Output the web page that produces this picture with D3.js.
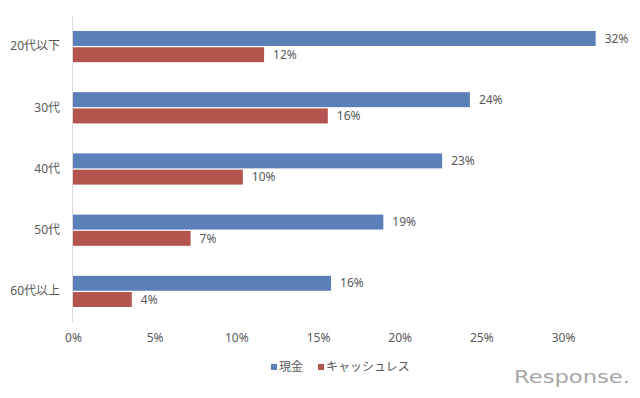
<!DOCTYPE html>
<html>
<head>
<meta charset="utf-8">
<script src="https://cdn.jsdelivr.net/npm/d3@7"></script>
<style>
  html, body { margin: 0; padding: 0; background: #fff; }
  svg { display: block; }
  text { font-family: "Noto Sans", "Noto Sans CJK JP", sans-serif; fill: #595959; }
</style>
</head>
<body>
<div id="chart"></div>
<script>
// data (percent)
var categories = ["20代以下", "30代", "40代", "50代", "60代以上"];
var seriesNames = ["現金", "キャッシュレス"];
var cashValues = [32.0, 24.3, 22.6, 19.0, 15.8];
var cashlessValues = [11.7, 15.6, 10.4, 7.2, 3.6];
var xTicks = [0, 5, 10, 15, 20, 25, 30];

var colors = ["#5a7fb9", "#b3544f"];

var svgWidth = 640, svgHeight = 398;
var margin = {top: 16, right: 77, bottom: 76, left: 73},
    width = svgWidth - margin.left - margin.right,
    height = svgHeight - margin.top - margin.bottom;

var svg = d3.select("#chart").append("svg")
    .attr("width", svgWidth)
    .attr("height", svgHeight);

var g = svg.append("g")
    .attr("transform", "translate(" + margin.left + "," + margin.top + ")");

var rows = categories.map(function(c, i) {
  return {cat: c, values: [cashValues[i], cashlessValues[i]]};
});

var xScale = d3.scaleLinear().domain([0, 30]).range([0, 490]);

var yScale = d3.scaleBand()
    .domain(categories)
    .range([0, height])
    .paddingInner(0.49)
    .paddingOuter(0.245);

var ySub = d3.scaleBand()
    .domain(seriesNames)
    .range([0, yScale.bandwidth()])
    .paddingInner(0.08);

// x tick labels (no axis line)
var xAxis = g.append("g")
    .attr("class", "axis axis--x")
    .attr("transform", "translate(0," + (height + 16) + ")")
    .call(d3.axisBottom(xScale).tickValues(xTicks).tickSize(0).tickPadding(0)
      .tickFormat(function(d) { return d + "%"; }));
xAxis.select(".domain").remove();
xAxis.selectAll("text")
    .attr("dy", "0.35em")
    .style("font-size", "12px")
    .style("font-family", null)
    .attr("fill", "#595959");

// category labels
var yAxis = g.append("g")
    .attr("class", "axis axis--y")
    .call(d3.axisLeft(yScale).tickSize(0).tickPadding(13));
yAxis.select(".domain").remove();
yAxis.selectAll("text")
    .style("font-size", "12px")
    .attr("fill", "#595959");
svg.selectAll(".axis").attr("font-family", null);

// bars
var gRow = g.selectAll(".gRow")
    .data(rows)
    .enter().append("g")
    .attr("class", "gRow")
    .attr("transform", function(d) { return "translate(0," + yScale(d.cat) + ")"; });

gRow.selectAll("rect")
    .data(function(d) { return d.values.map(function(v, i) { return {s: seriesNames[i], v: v, i: i}; }); })
    .enter().append("rect")
    .attr("x", 0)
    .attr("y", function(d) { return ySub(d.s); })
    .attr("width", function(d) { return xScale(d.v); })
    .attr("height", ySub.bandwidth())
    .style("fill", function(d) { return colors[d.i]; });

gRow.selectAll(".label")
    .data(function(d) { return d.values.map(function(v, i) { return {s: seriesNames[i], v: v}; }); })
    .enter().append("text")
    .attr("class", "label")
    .attr("x", function(d) { return xScale(d.v) + 9; })
    .attr("y", function(d) { return ySub(d.s) + ySub.bandwidth() / 2; })
    .attr("dy", "0.35em")
    .style("font-size", "12px")
    .text(function(d) { return Math.round(d.v) + "%"; });

// vertical axis line at 0
g.append("line")
    .attr("x1", xScale(0) - 0.5).attr("x2", xScale(0) - 0.5)
    .attr("y1", 0).attr("y2", height)
    .style("stroke", "#d9d9d9")
    .style("stroke-width", 1);

// legend
var legendX = [271, 318];
var legend = svg.selectAll(".legend")
    .data(seriesNames)
    .enter().append("g")
    .attr("class", "legend")
    .attr("transform", function(d, i) { return "translate(" + legendX[i] + ",367)"; });

legend.append("rect")
    .attr("x", 0).attr("y", -3)
    .attr("width", 6).attr("height", 6)
    .style("fill", function(d, i) { return colors[i]; });

legend.append("text")
    .attr("x", 8)
    .attr("dy", "0.35em")
    .style("font-size", "12px")
    .style("font-family", "'Noto Sans CJK JP', sans-serif")
    .text(function(d) { return d; });

// watermark
svg.append("text")
    .attr("x", 514)
    .attr("y", 383)
    .attr("textLength", 116)
    .attr("lengthAdjust", "spacingAndGlyphs")
    .style("font-size", "18px")
    .style("font-family", "'DejaVu Sans', sans-serif")
    .style("fill", "#a6a6a6")
    .text("Response.");
</script>
</body>
</html>
